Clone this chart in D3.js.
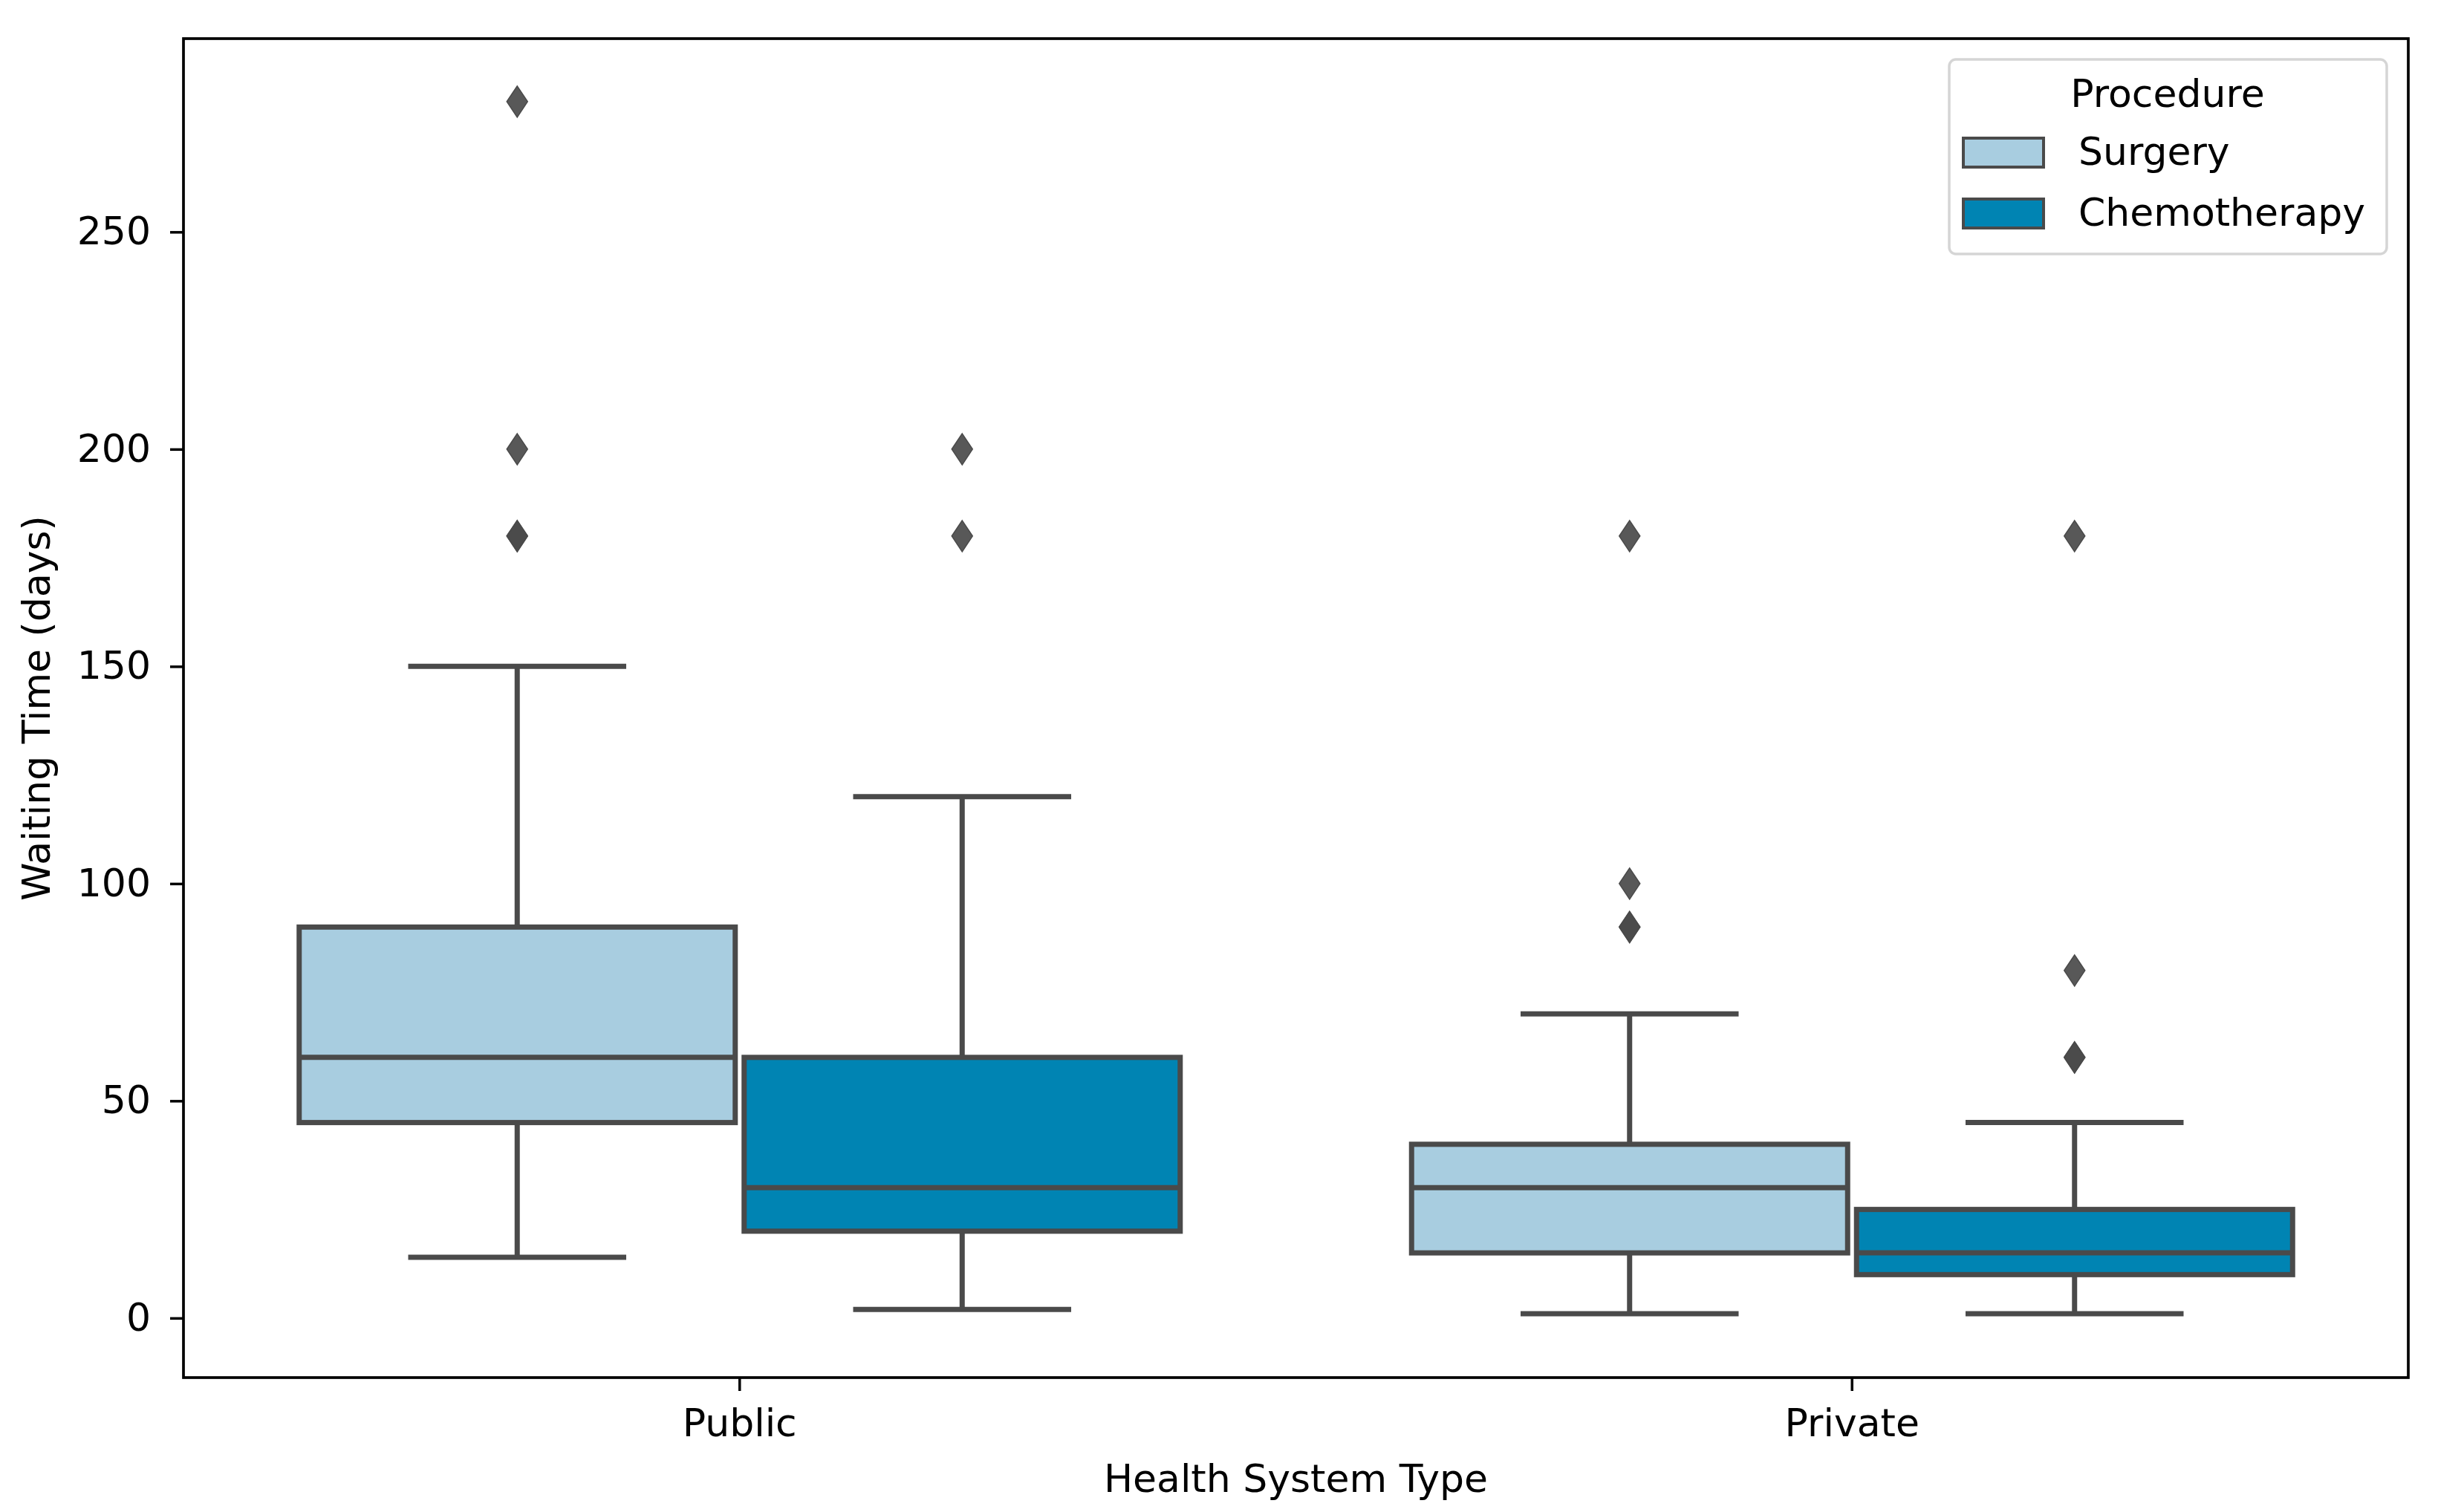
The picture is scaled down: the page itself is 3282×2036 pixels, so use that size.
<!DOCTYPE html>
<html>
<head>
<meta charset="utf-8">
<script src="https://cdn.jsdelivr.net/npm/d3@7"></script>
<style>
  body { margin: 0; background: #fff; }
  svg text { font-family: "DejaVu Sans", sans-serif; fill: #000; }
</style>
</head>
<body>
<svg id="chart"></svg>
<script>
// categories and hue groups
let categories = ["Public", "Private"]
let procedures = ["Surgery", "Chemotherapy"]
let yTicks = [0, 50, 100, 150, 200, 250]

// box stats, one entry per category (Public, Private)
let surgeryLow = [14, 1]
let surgeryQ1 = [45, 15]
let surgeryMedian = [60, 30]
let surgeryQ3 = [90, 40]
let surgeryHigh = [150, 70]
let surgeryFliers = [[180, 180, 200, 280], [90, 90, 100, 180]]

let chemoLow = [2, 1]
let chemoQ1 = [20, 10]
let chemoMedian = [30, 15]
let chemoQ3 = [60, 25]
let chemoHigh = [120, 45]
let chemoFliers = [[180, 200], [60, 60, 80, 180]]

let colors = ["#a8cde0", "#0084b3"]
let lineColor = "#4a4a4a"

let width = 3282
let height = 2036
let plotLeft = 247, plotRight = 3242, plotTop = 52, plotBottom = 1855
let fontSize = 52

let svg = d3.select("#chart")
  .attr("width", width)
  .attr("height", height)

let xScale = d3.scaleBand()
  .domain(categories)
  .range([plotLeft, plotRight])
  .padding(0)

let yScale = d3.scaleLinear()
  .domain([-13.7, 294.5])
  .range([plotBottom, plotTop])

// build box records from the arrays
let boxes = []
categories.forEach((cat, i) => {
  boxes.push({ cat: cat, hue: 0, low: surgeryLow[i], q1: surgeryQ1[i], med: surgeryMedian[i],
               q3: surgeryQ3[i], high: surgeryHigh[i], fliers: surgeryFliers[i] })
  boxes.push({ cat: cat, hue: 1, low: chemoLow[i], q1: chemoQ1[i], med: chemoMedian[i],
               q3: chemoQ3[i], high: chemoHigh[i], fliers: chemoFliers[i] })
})

let bw = xScale.bandwidth()
let boxWidth = 0.4 * bw * 0.98
let boxCenter = d => xScale(d.cat) + bw / 2 + (d.hue - 0.5) * 0.4 * bw

// axes
let yAxis = d3.axisLeft(yScale).tickValues(yTicks).tickSize(18).tickPadding(26)
let gy = svg.append("g")
  .attr("transform", "translate(" + plotLeft + ",0)")
  .call(yAxis)
gy.select(".domain").remove()
gy.selectAll(".tick line").attr("stroke", "#000").attr("stroke-width", 3.5)
gy.selectAll(".tick text").style("font-size", fontSize + "px")

let xAxis = d3.axisBottom(xScale).tickSize(18).tickPadding(24)
let gx = svg.append("g")
  .attr("transform", "translate(0," + plotBottom + ")")
  .call(xAxis)
gx.select(".domain").remove()
gx.selectAll(".tick line").attr("stroke", "#000").attr("stroke-width", 3.5)
gx.selectAll(".tick text").style("font-size", fontSize + "px")

// boxes
let g = svg.append("g")
let boxG = g.selectAll("g.box")
  .data(boxes)
  .enter()
  .append("g")
  .attr("class", "box")

// whiskers
boxG.append("line")
  .attr("x1", boxCenter).attr("x2", boxCenter)
  .attr("y1", d => yScale(d.q3)).attr("y2", d => yScale(d.high))
  .attr("stroke", lineColor).attr("stroke-width", 7)
boxG.append("line")
  .attr("x1", boxCenter).attr("x2", boxCenter)
  .attr("y1", d => yScale(d.q1)).attr("y2", d => yScale(d.low))
  .attr("stroke", lineColor).attr("stroke-width", 7)

// caps
boxG.selectAll("line.cap")
  .data(d => [d.low, d.high].map(v => ({ v: v, d: d })))
  .enter()
  .append("line")
  .attr("class", "cap")
  .attr("x1", c => boxCenter(c.d) - boxWidth / 4)
  .attr("x2", c => boxCenter(c.d) + boxWidth / 4)
  .attr("y1", c => yScale(c.v)).attr("y2", c => yScale(c.v))
  .attr("stroke", lineColor).attr("stroke-width", 7)

// box
boxG.append("rect")
  .attr("x", d => boxCenter(d) - boxWidth / 2)
  .attr("width", boxWidth)
  .attr("y", d => yScale(d.q3))
  .attr("height", d => yScale(d.q1) - yScale(d.q3))
  .attr("fill", d => colors[d.hue])
  .attr("stroke", lineColor).attr("stroke-width", 7)

// median
boxG.append("line")
  .attr("x1", d => boxCenter(d) - boxWidth / 2)
  .attr("x2", d => boxCenter(d) + boxWidth / 2)
  .attr("y1", d => yScale(d.med)).attr("y2", d => yScale(d.med))
  .attr("stroke", lineColor).attr("stroke-width", 7)

// outliers as thin diamonds
let diamond = "M0,-21 L14,0 L0,21 L-14,0 Z"
boxG.selectAll("path.flier")
  .data(d => d.fliers.map(v => ({ v: v, d: d })))
  .enter()
  .append("path")
  .attr("class", "flier")
  .attr("d", diamond)
  .attr("transform", f => "translate(" + boxCenter(f.d) + "," + yScale(f.v) + ")")
  .attr("fill", lineColor)
  .attr("fill-opacity", 0.92)
  .attr("stroke", lineColor)
  .attr("stroke-width", 1.5)

// frame
svg.append("rect")
  .attr("x", plotLeft).attr("y", plotTop)
  .attr("width", plotRight - plotLeft).attr("height", plotBottom - plotTop)
  .attr("fill", "none").attr("stroke", "#000").attr("stroke-width", 3.7)

// axis titles
svg.append("text")
  .attr("x", (plotLeft + plotRight) / 2)
  .attr("y", 2009)
  .attr("text-anchor", "middle")
  .style("font-size", fontSize + "px")
  .text("Health System Type")

svg.append("text")
  .attr("transform", "translate(67," + (plotTop + plotBottom) / 2 + ") rotate(-90)")
  .attr("text-anchor", "middle")
  .style("font-size", fontSize + "px")
  .text("Waiting Time (days)")

// legend
let legend = svg.append("g")
legend.append("rect")
  .attr("x", 2624).attr("y", 80)
  .attr("width", 589).attr("height", 262)
  .attr("rx", 9)
  .attr("fill", "#fff").attr("fill-opacity", 0.8)
  .attr("stroke", "#d5d5d5").attr("stroke-width", 3.5)
legend.append("text")
  .attr("x", 2918).attr("y", 144)
  .attr("text-anchor", "middle")
  .style("font-size", fontSize + "px")
  .text("Procedure")

let items = legend.selectAll("g.item")
  .data(procedures)
  .enter()
  .append("g")
  .attr("class", "item")
  .attr("transform", (p, i) => "translate(0," + (i * 82) + ")")
items.append("rect")
  .attr("x", 2643).attr("y", 186)
  .attr("width", 108).attr("height", 39)
  .attr("fill", (p, i) => colors[i])
  .attr("stroke", lineColor).attr("stroke-width", 4)
items.append("text")
  .attr("x", 2798).attr("y", 222)
  .style("font-size", fontSize + "px")
  .text(p => p)
</script>
</body>
</html>
